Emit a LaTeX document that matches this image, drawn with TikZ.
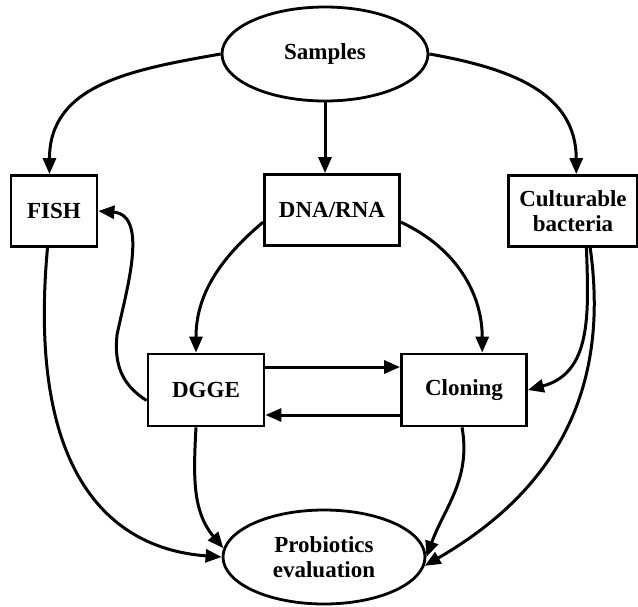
\documentclass[tikz,border=0pt]{standalone}
\usepackage{fontspec}
\setmainfont{Liberation Serif}
\usepackage{tikz}
\usetikzlibrary{arrows.meta,shapes}
\tikzstyle{edge}=[line width=3pt, -{Triangle[length=16pt,width=13pt]}]
\tikzstyle{boxV}=[rectangle, draw, line width=2.8pt, inner sep=0pt, minimum height=71pt, align=center, font=\bfseries\fontsize{23}{25}\selectfont]
\tikzstyle{ovalV}=[ellipse, draw, line width=2.8pt, inner sep=0pt, minimum width=204pt, minimum height=94pt, align=center, font=\bfseries\fontsize{23}{25}\selectfont]
\begin{document}
\begin{tikzpicture}[x=1pt, y=-1pt]
      \useasboundingbox (0,0) rectangle (638,606);
      \node(samples) [ovalV, minimum width=206pt] at (325, 54){Samples};
      \node(fish) [boxV, minimum width=86pt] at (54, 211){FISH};
      \node(dna) [boxV, minimum width=135pt] at (332, 210){DNA/RNA};
      \node(cult) [boxV, minimum width=129pt] at (573, 211){Culturable\\bacteria};
      \node(dgge) [boxV, minimum width=116pt, minimum height=72pt] at (206, 390){DGGE};
      \node(clon) [boxV, minimum width=125pt, minimum height=72pt] at (464, 390){Cloning};
      \node(prob) [ovalV, minimum width=202pt] at (324, 557){Probiotics\\evaluation};
      \draw[edge] (samples.west) to[out=190, in=90, looseness=1.1] (fish.97);
      \draw[edge] (samples.south) -- (samples.south |- dna.north);
      \draw[edge] (samples.east) to[out=-10, in=90, looseness=1.1] (cult.85);
      \draw[edge] (dna.190) to[out=220, in=90] (dgge.105);
      \draw[edge] (dna.-10) to[out=-25, in=90] (clon.64);
      \draw[edge] (dgge.190) .. controls (122,385) and (114,365) .. (117,335)
                  .. controls (125,295) and (150,215) .. (fish.east);
      \draw[edge] (fish.-100) .. controls (28,460) and (100,548) .. (prob.west);
      \draw[edge] (dgge.-105) to[out=-93, in=130] (prob.175);
      \draw[edge] ([yshift=23pt]dgge.east) -- ([yshift=23pt]clon.west);
      \draw[edge] ([yshift=-25pt]clon.west) -- ([yshift=-25pt]dgge.east);
      \draw[edge] (clon.-93) to[out=-80, in=70] (prob.east);
      \draw[edge] (cult.-70) to[out=-88, in=15, looseness=1.1] (clon.east);
      \draw[edge] (cult.-65) to[out=-82, in=30, looseness=1.05] (prob.-5);
\end{tikzpicture}
\end{document}
